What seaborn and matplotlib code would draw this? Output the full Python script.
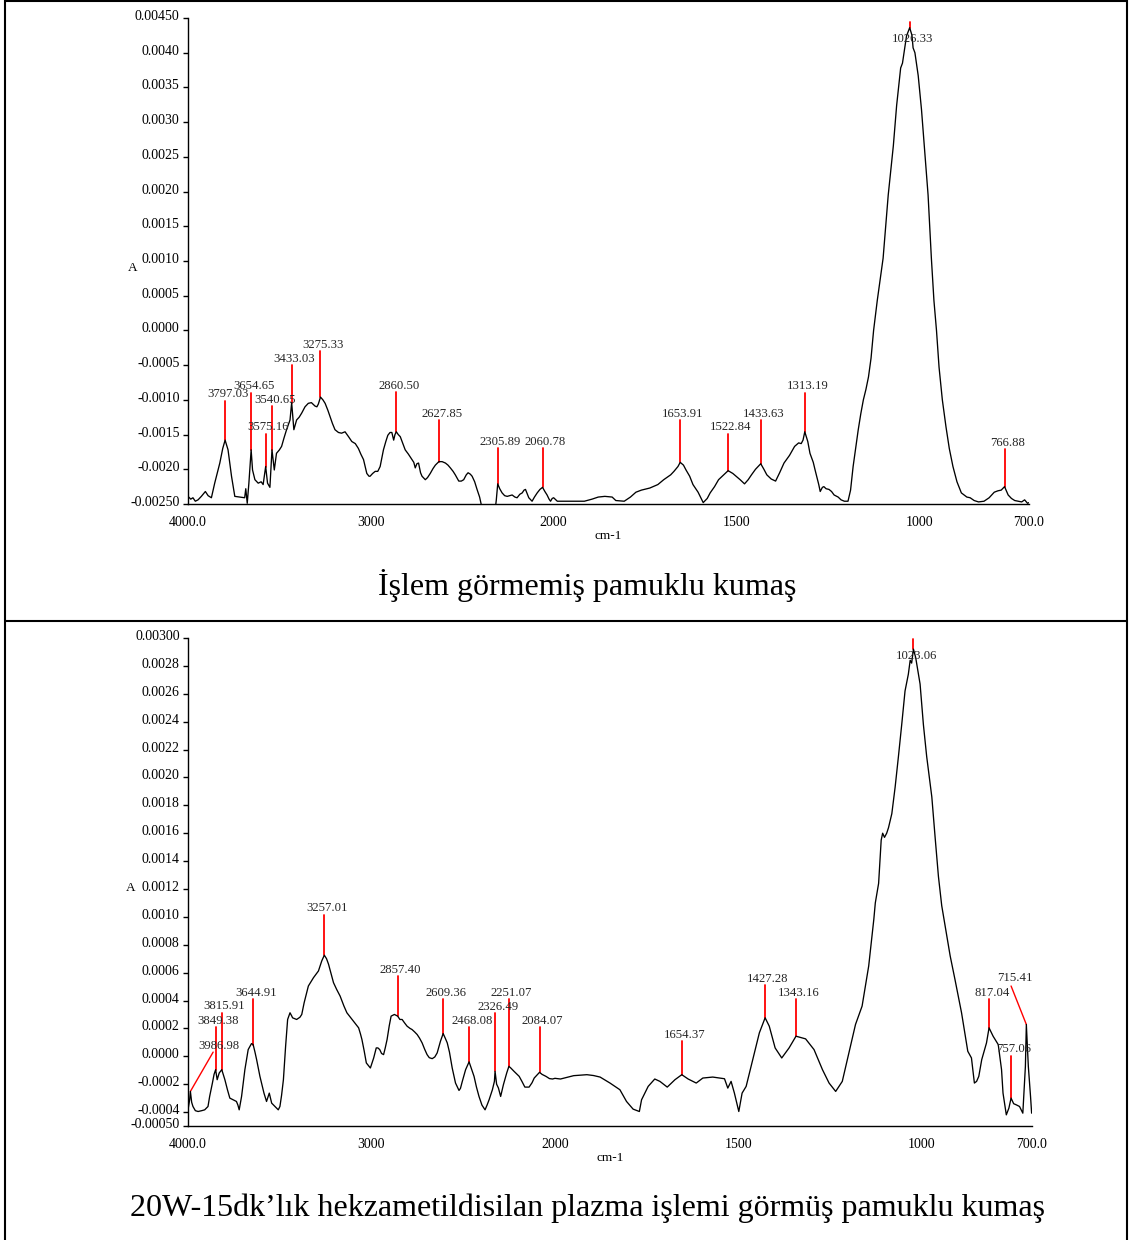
import numpy as np
import matplotlib
matplotlib.use("Agg")
import matplotlib.pyplot as plt
from matplotlib.lines import Line2D
from matplotlib.transforms import ScaledTranslation
import seaborn as sns

# ---------------------------------------------------------------------------
# FTIR spectrum of untreated cotton fabric (wavenumber cm-1, absorbance A)
# ---------------------------------------------------------------------------
untreated_wn = [
    4000, 3985, 3973, 3960, 3945, 3927, 3905, 3890, 3872, 3854, 3826, 3810,
    3797.03, 3781, 3762, 3744, 3717, 3690, 3684, 3676, 3667, 3654.65, 3647,
    3634, 3616, 3600, 3589, 3575.16, 3565, 3552, 3540.65, 3528, 3516, 3500,
    3488, 3475, 3461, 3442, 3433.03, 3425, 3421, 3406, 3392, 3378, 3360, 3342,
    3325, 3305, 3295, 3287, 3275.33, 3262, 3250, 3235, 3223, 3210, 3196, 3177,
    3160, 3141, 3122, 3104, 3085, 3068, 3055, 3040, 3030, 3022, 3010, 3004,
    2990, 2976, 2962, 2949, 2940, 2931, 2918, 2907, 2895, 2885, 2875, 2868,
    2860.50, 2850, 2839, 2825, 2812, 2795, 2775, 2765, 2757, 2748, 2739, 2728,
    2720, 2702, 2690, 2675, 2660, 2647, 2627.85, 2610, 2592, 2578, 2565, 2550,
    2538, 2519, 2505, 2492, 2478, 2468, 2456, 2446, 2432, 2419, 2405, 2395,
    2385, 2340, 2320, 2314, 2305.89, 2295, 2282, 2268, 2254, 2240, 2227, 2212,
    2200, 2185, 2172, 2162, 2154, 2145, 2136, 2118, 2105, 2090, 2075, 2060.78,
    2048, 2036, 2025, 2017, 2008, 2000, 1990, 1978, 1916, 1895, 1878, 1860,
    1840, 1830, 1807, 1790, 1775, 1760, 1737, 1715, 1699, 1680, 1671, 1660,
    1653.91, 1645, 1638, 1628, 1619, 1605, 1591, 1580, 1572, 1560, 1549, 1535,
    1522.84, 1510, 1501, 1490, 1478, 1468, 1459, 1448, 1433.63, 1425, 1417,
    1405, 1393, 1382, 1370, 1355, 1341, 1330, 1323, 1318, 1313.19, 1305, 1299,
    1290, 1285, 1275, 1271, 1265, 1261, 1255, 1247, 1240, 1233, 1222, 1214,
    1205, 1195, 1188, 1181, 1174, 1167, 1160, 1153, 1146, 1139, 1132, 1125,
    1115, 1099, 1085, 1071, 1062, 1051, 1046, 1035, 1026.33, 1020, 1017, 1012,
    1003, 994, 985, 976, 967, 960, 953, 946, 937, 927, 918, 908, 897, 885, 870,
    861, 850, 838, 823, 809, 795, 785, 776, 766.88, 757, 748, 739, 720, 712,
    704, 700,
]
untreated_abs = [
    -0.00239, -0.00243, -0.00241, -0.00246, -0.00244, -0.00239, -0.00232,
    -0.00238, -0.00241, -0.00220, -0.00191, -0.00170, -0.00158, -0.00172,
    -0.00210, -0.00239, -0.00240, -0.00241, -0.00228, -0.00249, -0.00220,
    -0.00172, -0.00201, -0.00215, -0.00220, -0.00218, -0.00222, -0.00196,
    -0.00220, -0.00226, -0.00172, -0.00201, -0.00177, -0.00172, -0.00167,
    -0.00155, -0.00143, -0.00129, -0.00104, -0.00130, -0.00143, -0.00129,
    -0.00125, -0.00119, -0.00110, -0.00105, -0.00104, -0.00109, -0.00110,
    -0.00106, -0.00096, -0.00100, -0.00105, -0.00115, -0.00124, -0.00134,
    -0.00143, -0.00147, -0.00148, -0.00146, -0.00153, -0.00160, -0.00163,
    -0.00170, -0.00178, -0.00186, -0.00197, -0.00206, -0.00210, -0.00210,
    -0.00206, -0.00203, -0.00203, -0.00196, -0.00184, -0.00172, -0.00160,
    -0.00151, -0.00147, -0.00147, -0.00158, -0.00150, -0.00146, -0.00150,
    -0.00153, -0.00163, -0.00172, -0.00178, -0.00186, -0.00190, -0.00198,
    -0.00192, -0.00191, -0.00205, -0.00210, -0.00215, -0.00212, -0.00206,
    -0.00199, -0.00194, -0.00189, -0.00189, -0.00191, -0.00194, -0.00198,
    -0.00203, -0.00208, -0.00217, -0.00217, -0.00215, -0.00208, -0.00205,
    -0.00207, -0.00210, -0.00218, -0.00229, -0.00240, -0.00252, -0.00265,
    -0.00265, -0.00258, -0.00245, -0.00221, -0.00228, -0.00234, -0.00238,
    -0.00239, -0.00238, -0.00237, -0.00240, -0.00241, -0.00236, -0.00234,
    -0.00230, -0.00229, -0.00235, -0.00241, -0.00246, -0.00240, -0.00234,
    -0.00229, -0.00226, -0.00232, -0.00237, -0.00243, -0.00246, -0.00242,
    -0.00241, -0.00246, -0.00246, -0.00246, -0.00243, -0.00240, -0.00239,
    -0.00240, -0.00245, -0.00246, -0.00240, -0.00233, -0.00230, -0.00227,
    -0.00222, -0.00215, -0.00208, -0.00203, -0.00196, -0.00190, -0.00194,
    -0.00201, -0.00210, -0.00222, -0.00233, -0.00248, -0.00242, -0.00234,
    -0.00225, -0.00215, -0.00208, -0.00202, -0.00206, -0.00210, -0.00215,
    -0.00221, -0.00215, -0.00208, -0.00200, -0.00192, -0.00200, -0.00208,
    -0.00214, -0.00217, -0.00205, -0.00191, -0.00180, -0.00167, -0.00162,
    -0.00163, -0.00158, -0.00146, -0.00160, -0.00177, -0.00190, -0.00201,
    -0.00222, -0.00232, -0.00226, -0.00225, -0.00228, -0.00229, -0.00232,
    -0.00237, -0.00240, -0.00244, -0.00246, -0.00246, -0.00230, -0.00196,
    -0.00170, -0.00143, -0.00120, -0.00100, -0.00085, -0.00067, -0.00040,
    0.00000, 0.00043, 0.00104, 0.00195, 0.00266, 0.00324, 0.00378, 0.00385,
    0.00424, 0.00436, 0.00425, 0.00407, 0.00400, 0.00367, 0.00318, 0.00257,
    0.00195, 0.00104, 0.00043, 0.00000, -0.00053, -0.00100, -0.00139,
    -0.00170, -0.00196, -0.00218, -0.00234, -0.00240, -0.00241, -0.00245,
    -0.00247, -0.00246, -0.00241, -0.00233, -0.00231, -0.00230, -0.00225,
    -0.00237, -0.00242, -0.00245, -0.00247, -0.00244, -0.00249, -0.00248,
]

# ---------------------------------------------------------------------------
# FTIR spectrum of HMDSO plasma treated cotton fabric (20 W, 15 min)
# ---------------------------------------------------------------------------
treated_wn = [
    4000, 3991, 3986.98, 3980, 3973, 3960, 3945, 3925, 3909, 3891, 3882, 3867,
    3858, 3849.38, 3841, 3830, 3815.91, 3808, 3799, 3785, 3772, 3754, 3736,
    3728, 3721, 3708, 3690, 3672, 3654, 3644.91, 3635, 3626, 3608, 3586, 3572,
    3557, 3544, 3526, 3508, 3499, 3490, 3480, 3468, 3457, 3444, 3435, 3430,
    3408, 3390, 3380, 3367, 3344, 3316, 3289, 3271, 3257.01, 3245, 3234, 3220,
    3207, 3190, 3171, 3150, 3134, 3115, 3098, 3085, 3070, 3060, 3052, 3040,
    3028, 3015, 3006, 2995, 2988, 2974, 2965, 2955, 2945, 2934, 2925, 2915,
    2903, 2893, 2875, 2857.40, 2845, 2833, 2820, 2806, 2790, 2779, 2765, 2751,
    2738, 2724, 2710, 2697, 2685, 2669, 2655, 2642, 2632, 2624, 2609.36, 2598,
    2587, 2575, 2560, 2542, 2523, 2515, 2505, 2487, 2468.08, 2455, 2441, 2428,
    2414, 2398, 2381, 2370, 2359, 2341, 2330, 2326.49, 2318, 2308, 2296, 2281,
    2263, 2251.07, 2240, 2223, 2195, 2180, 2164, 2141, 2125, 2113, 2095,
    2084.07, 2070, 2049, 2030, 2013, 2000, 1985, 1965, 1949, 1930, 1913, 1895,
    1877, 1850, 1823, 1805, 1787, 1770, 1764, 1746, 1728, 1714, 1694, 1673,
    1654.37, 1637, 1615, 1597, 1570, 1538, 1529, 1520, 1511, 1499, 1490, 1479,
    1461, 1443, 1427.28, 1416, 1400, 1382, 1362, 1343.16, 1317, 1294, 1271,
    1253, 1235, 1217, 1199, 1181, 1163, 1145, 1131, 1127, 1118, 1111, 1107,
    1102, 1096, 1091, 1082, 1073, 1064, 1055, 1046, 1037, 1032, 1028, 1023.06,
    1017, 1005, 996, 987, 973, 964, 955, 946, 937, 923, 910, 892, 875, 865,
    857, 851, 845, 837, 824, 817.04, 806, 792, 783, 779, 770, 763, 757.06, 750,
    743, 734, 725, 718, 715.41, 710, 704, 701,
]
treated_abs = [
    -0.000384, -0.000312, -0.000252, -0.000330, -0.000360, -0.000390,
    -0.000396, -0.000390, -0.000384, -0.000360, -0.000288, -0.000192,
    -0.000130, -0.000096, -0.000168, -0.000120, -0.000096, -0.000130,
    -0.000168, -0.000240, -0.000300, -0.000312, -0.000324, -0.000350,
    -0.000384, -0.000288, -0.000096, 0.000048, 0.000091, 0.000084, 0.000030,
    -0.000024, -0.000144, -0.000264, -0.000324, -0.000264, -0.000336,
    -0.000360, -0.000384, -0.000360, -0.000280, -0.000168, 0.000072, 0.000264,
    0.000312, 0.000290, 0.000276, 0.000264, 0.000280, 0.000300, 0.000384,
    0.000504, 0.000564, 0.000612, 0.000684, 0.000725, 0.000700, 0.000660,
    0.000590, 0.000528, 0.000480, 0.000432, 0.000360, 0.000312, 0.000280,
    0.000252, 0.000230, 0.000204, 0.000160, 0.000120, 0.000040, -0.000048,
    -0.000070, -0.000084, -0.000040, -0.000012, 0.000060, 0.000060, 0.000048,
    0.000020, 0.000012, 0.000060, 0.000120, 0.000220, 0.000288, 0.000300,
    0.000288, 0.000264, 0.000264, 0.000240, 0.000216, 0.000200, 0.000192,
    0.000175, 0.000156, 0.000130, 0.000096, 0.000050, 0.000012, -0.000010,
    -0.000017, -0.000005, 0.000024, 0.000070, 0.000108, 0.000163, 0.000130,
    0.000096, 0.000030, -0.000084, -0.000192, -0.000245, -0.000230,
    -0.000180, -0.000096, -0.000040, -0.000090, -0.000144, -0.000220,
    -0.000288, -0.000350, -0.000384, -0.000350, -0.000312, -0.000240,
    -0.000180, -0.000108, -0.000200, -0.000228, -0.000288, -0.000204,
    -0.000120, -0.000072, -0.000085, -0.000108, -0.000144, -0.000180,
    -0.000221, -0.000221, -0.000190, -0.000156, -0.000130, -0.000115,
    -0.000130, -0.000144, -0.000160, -0.000163, -0.000158, -0.000163,
    -0.000150, -0.000139, -0.000135, -0.000132, -0.000138, -0.000149,
    -0.000192, -0.000240, -0.000324, -0.000379, -0.000396, -0.000312,
    -0.000216, -0.000163, -0.000180, -0.000221, -0.000168, -0.000132,
    -0.000163, -0.000192, -0.000156, -0.000149, -0.000161, -0.000228,
    -0.000180, -0.000264, -0.000396, -0.000264, -0.000216, -0.000024,
    0.000168, 0.000276, 0.000216, 0.000060, -0.000012, 0.000060, 0.000144,
    0.000125, 0.000048, -0.000096, -0.000192, -0.000252, -0.000180, 0.000024,
    0.000228, 0.000360, 0.000648, 0.000984, 0.001100, 0.001240, 0.001550,
    0.001600, 0.001570, 0.001600, 0.001640, 0.001740, 0.001930, 0.002150,
    0.002380, 0.002620, 0.002740, 0.002840, 0.002820, 0.002920, 0.002860,
    0.002670, 0.002380, 0.002150, 0.001860, 0.001570, 0.001290, 0.001080,
    0.000940, 0.000720, 0.000552, 0.000312, 0.000036, -0.000012, -0.000192,
    -0.000180, -0.000144, -0.000024, 0.000096, 0.000204, 0.000144, 0.000084,
    -0.000096, -0.000264, -0.000420, -0.000372, -0.000300, -0.000340,
    -0.000348, -0.000360, -0.000408, -0.000072, 0.000228, -0.000072,
    -0.000288, -0.000408,
]

# Peak markers: wavenumber and the height reached by each red marker line
untreated_peaks = [3797.03, 3654.65, 3575.16, 3540.65, 3433.03, 3275.33,
                   2860.50, 2627.85, 2305.89, 2060.78, 1653.91, 1522.84,
                   1433.63, 1313.19, 1026.33, 766.88]
untreated_marker_top = [-0.00101, -0.00090, -0.00149, -0.00109, -0.00050,
                        -0.00030, -0.00089, -0.00129, -0.00170, -0.00170,
                        -0.00129, -0.00149, -0.00129, -0.00090, 0.00444,
                        -0.00171]

treated_peaks = [3986.98, 3849.38, 3815.91, 3644.91, 3257.01, 2857.40,
                 2609.36, 2468.08, 2326.49, 2251.07, 2084.07, 1654.37,
                 1427.28, 1343.16, 1023.06, 817.04, 757.06, 715.41]
treated_marker_top = [0.000030, 0.000209, 0.000312, 0.000408, 0.001015,
                      0.000576, 0.000408, 0.000209, 0.000307, 0.000408,
                      0.000209, 0.000108, 0.000509, 0.000408, 0.00299,
                      0.000408, 0.000005, 0.000504]

# Axis ticks and labels
x_ticks = [4000, 3000, 2000, 1500, 1000, 700]
x_tick_labels = ["4000.0", "3000", "2000", "1500", "1000", "700.0"]

untreated_y_ticks = [-0.0025, -0.0020, -0.0015, -0.0010, -0.0005, 0.0,
                     0.0005, 0.0010, 0.0015, 0.0020, 0.0025, 0.0030,
                     0.0035, 0.0040, 0.0045]
untreated_y_labels = ["-0.00250", "-0.0020", "-0.0015", "-0.0010", "-0.0005",
                      "0.0000", "0.0005", "0.0010", "0.0015", "0.0020",
                      "0.0025", "0.0030", "0.0035", "0.0040", "0.00450"]

treated_y_ticks = [-0.0005, -0.0004, -0.0002, 0.0, 0.0002, 0.0004, 0.0006,
                   0.0008, 0.0010, 0.0012, 0.0014, 0.0016, 0.0018, 0.0020,
                   0.0022, 0.0024, 0.0026, 0.0028, 0.0030]
treated_y_labels = ["-0.00050", "-0.0004", "-0.0002", "0.0000", "0.0002",
                    "0.0004", "0.0006", "0.0008", "0.0010", "0.0012",
                    "0.0014", "0.0016", "0.0018", "0.0020", "0.0022",
                    "0.0024", "0.0026", "0.0028", "0.00300"]

caption_top = "İşlem görmemiş pamuklu kumaş"
caption_bottom = "20W-15dk’lık hekzametildisilan plazma işlemi görmüş pamuklu kumaş"

# ---------------------------------------------------------------------------
sns.set_theme(style="white")
plt.rcParams["font.family"] = ["Liberation Serif", "DejaVu Serif"]

W, H = 1129, 1240
fig = plt.figure(figsize=(W / 100, H / 100), dpi=100)
fig.patch.set_facecolor("white")


# Spectrometer-style abscissa: scale doubles below 2000 cm-1
def _fwd(w):
    w = np.asarray(w, dtype=float)
    return np.where(w >= 2000, w, 2000 - 2 * (2000 - w))


def _inv(u):
    u = np.asarray(u, dtype=float)
    return np.where(u >= 2000, u, 2000 - (2000 - u) / 2)


def draw_spectrum(ax, wn, ab, peaks, tops, yticks, ylabels, ylim,
                  label_pos, leaders, label_xy):
    sns.lineplot(x=wn, y=ab, ax=ax, color="black", lw=0.95, sort=False,
                 estimator=None, zorder=3)
    ax.set_xscale("function", functions=(_fwd, _inv))
    ax.set_xlim(4000, 700)
    ax.set_ylim(*ylim)

    wn_arr = np.asarray(wn)[::-1]
    ab_arr = np.asarray(ab)[::-1]
    for w, top in zip(peaks, tops):
        base = np.interp(w, wn_arr, ab_arr)
        if w in leaders:
            ax.plot([w, leaders[w]], [base, top], color="red", lw=1.0,
                    zorder=2)
        else:
            ax.plot([w, w], [base, top], color="red", lw=1.3, zorder=2)
        text = f"{w:.2f}"
        if w in label_xy:
            tx, ty, va = label_xy[w]
            ax.annotate(text, xy=(tx, ty), xytext=(2, 0),
                        textcoords="offset points", ha="center", va=va,
                        fontsize=9.2, zorder=4)
        else:
            ax.annotate(text, xy=(w, top), xytext=(2, 0.3),
                        textcoords="offset points", ha="center",
                        va="bottom", fontsize=9.2, zorder=4)

    ax.set_xticks(x_ticks)
    ax.set_xticklabels(x_tick_labels)
    ax.set_yticks(yticks)
    ax.set_yticklabels(ylabels)
    ax.minorticks_off()
    ax.tick_params(axis="x", length=0, pad=8.5, labelsize=10, colors="black")
    ax.tick_params(axis="y", length=3.5, width=1.0, direction="out", pad=2.5,
                   labelsize=10, colors="black", left=True)
    lift = ScaledTranslation(0, 3 / 100, fig.dpi_scale_trans)
    for lbl in ax.get_yticklabels():
        lbl.set_transform(lbl.get_transform() + lift)

    for side in ("top", "right"):
        ax.spines[side].set_visible(False)
    for side in ("left", "bottom"):
        ax.spines[side].set_color("black")
        ax.spines[side].set_linewidth(1.0)
    ax.grid(False)
    ax.set_facecolor("white")

    ax.set_xlabel("cm-1", fontsize=9.5, color="black")
    ax.xaxis.set_label_coords(0.5, label_pos[0])
    ax.set_ylabel("A", rotation=0, fontsize=9.5, color="black",
                  ha="center", va="center")
    ax.yaxis.set_label_coords(label_pos[1], label_pos[2])


ax_top = fig.add_axes([188 / W, 1 - 504 / H, 841 / W, 486 / H])
draw_spectrum(ax_top, untreated_wn, untreated_abs, untreated_peaks,
              untreated_marker_top, untreated_y_ticks, untreated_y_labels,
              (-0.0025, 0.0045), (-0.054, -0.0654, 0.486), {},
              {1026.33: (1026.33, 0.0042, "center")})

ax_bot = fig.add_axes([188 / W, 1 - 1126 / H, 844 / W, 488 / H])
draw_spectrum(ax_bot, treated_wn, treated_abs, treated_peaks,
              treated_marker_top, treated_y_ticks, treated_y_labels,
              (-0.0005, 0.0030), (-0.053, -0.0675, 0.488),
              {3986.98: 3863, 715.41: 757},
              {3986.98: (3845, 0.000030, "bottom"),
               715.41: (753, 0.000515, "bottom"),
               1023.06: (1023.06, 0.00287, "center")})

# Table frame around the two figures
frame_kw = dict(transform=fig.transFigure, color="black", lw=1.5)
fig.add_artist(Line2D([5 / W, 5 / W], [0, 1], **frame_kw))
fig.add_artist(Line2D([1127 / W, 1127 / W], [0, 1], **frame_kw))
fig.add_artist(Line2D([5 / W, 1127 / W], [1 - 1.2 / H, 1 - 1.2 / H], **frame_kw))
fig.add_artist(Line2D([5 / W, 1127 / W], [1 - 621 / H, 1 - 621 / H], **frame_kw))

fig.text(587.5 / W, 1 - 585 / H, caption_top, ha="center", va="center",
         fontsize=23, color="black")
fig.text(587.5 / W, 1 - 1208 / H, caption_bottom, ha="center", va="center",
         fontsize=23, color="black")

fig.savefig("out.png", dpi=100, facecolor="white")
